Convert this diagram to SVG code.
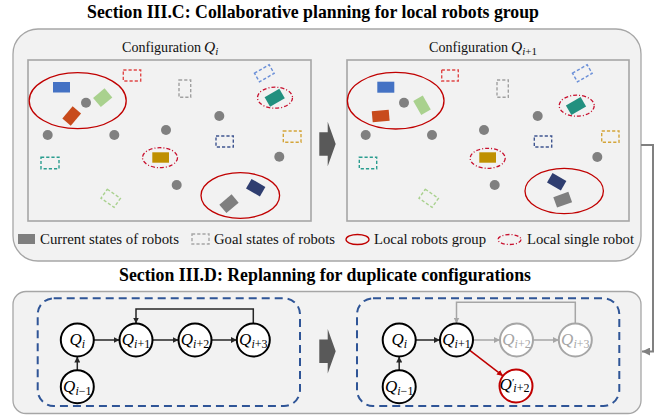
<svg xmlns="http://www.w3.org/2000/svg" width="662" height="420" viewBox="0 0 662 420">
<defs>
<style>
.ttl{font-family:"Times New Roman","Liberation Serif","DejaVu Serif",serif;font-weight:bold;font-size:17.8px;fill:#000}
.lbl{font-family:"Times New Roman","Liberation Serif","DejaVu Serif",serif;font-size:14px;fill:#111}
.leg{font-family:"Times New Roman","Liberation Serif","DejaVu Serif",serif;font-size:14.6px;fill:#111}
.math{font-family:"Times New Roman","Liberation Serif","DejaVu Serif",serif;font-style:italic}
.up{font-style:normal}
.panel{fill:#F2F2F2;stroke:#A6A6A6;stroke-width:1.3}
.field{fill:#F2F2F2;stroke:#A6A6A6;stroke-width:1.6}
.obs{fill:#808080}
.goal{fill:none;stroke-width:1.4;stroke-dasharray:3.2 2}
.grp{fill:none;stroke:#C00000;stroke-width:1.3}
.single{fill:none;stroke:#C8102E;stroke-width:1.3;stroke-dasharray:4 2 1 2}
.dash{fill:none;stroke:#2F5597;stroke-width:2;stroke-dasharray:8 5}
.node circle{fill:#fff;stroke:#000;stroke-width:2}
.node text{font-family:"Times New Roman","Liberation Serif","DejaVu Serif",serif;font-style:italic;font-size:17px;fill:#000}
.node.grey circle{stroke:#A6A6A6}
.node.grey text{fill:#A6A6A6}
.node.red circle{stroke:#C00000}
.edge{fill:none;stroke:#262626;stroke-width:1.5}
.edgeg{fill:none;stroke:#A6A6A6;stroke-width:1.5}
.edger{fill:none;stroke:#C00000;stroke-width:1.5}
.big{fill:#595959}
</style>
<marker id="ah" viewBox="0 0 6 6" refX="6" refY="3" markerWidth="6" markerHeight="6" markerUnits="userSpaceOnUse" orient="auto"><path d="M0,0L6,3L0,6z" fill="#262626"/></marker>
<marker id="ahg" viewBox="0 0 6 6" refX="6" refY="3" markerWidth="6" markerHeight="6" markerUnits="userSpaceOnUse" orient="auto"><path d="M0,0L6,3L0,6z" fill="#A6A6A6"/></marker>
<marker id="ahr" viewBox="0 0 6 6" refX="6" refY="3" markerWidth="6" markerHeight="6" markerUnits="userSpaceOnUse" orient="auto"><path d="M0,0L6,3L0,6z" fill="#C00000"/></marker>
<marker id="ahc" viewBox="0 0 8 8" refX="8" refY="4" markerWidth="8" markerHeight="8" markerUnits="userSpaceOnUse" orient="auto"><path d="M0,0L8,4L0,8z" fill="#808080"/></marker>
</defs>

<!-- Titles -->
<text class="ttl" x="87" y="18" textLength="452" lengthAdjust="spacingAndGlyphs">Section III.C: Collaborative planning for local robots group</text>

<!-- Top panel -->
<g id="top-panel">
<rect class="panel" x="13" y="29" width="628" height="232" rx="25"/>
<text class="lbl" x="122" y="52"><tspan textLength="79" lengthAdjust="spacingAndGlyphs">Configuration</tspan><tspan class="math" font-size="15.5" x="204">Q</tspan><tspan class="math" font-size="11" dy="3">i</tspan></text>
<text class="lbl" x="429" y="52"><tspan textLength="79" lengthAdjust="spacingAndGlyphs">Configuration</tspan><tspan class="math" font-size="15.5" x="511">Q</tspan><tspan font-size="11" dy="3"><tspan class="math">i</tspan>+1</tspan></text>

<!-- left field -->
<g id="field-left">
<rect class="field" x="28" y="60" width="283" height="161"/>
<ellipse class="grp" cx="77.7" cy="100.7" rx="48.5" ry="28"/>
<rect x="53" y="82" width="17" height="10.5" fill="#4472C4"/>
<circle class="obs" cx="86" cy="102.7" r="5"/>
<rect x="-7.5" y="-6" width="15" height="12" fill="#A9D18E" transform="translate(102.7 97.7) rotate(-40)"/>
<rect x="-8" y="-5.5" width="16" height="11" fill="#C84B1C" transform="translate(71.7 116) rotate(-50)"/>
<rect class="goal" x="123.3" y="70" width="17.4" height="11" stroke="#E04848"/>
<rect class="goal" x="179" y="80" width="11.7" height="17.3" stroke="#A0A0A0"/>
<rect class="goal" x="-8.5" y="-5" width="17" height="10" stroke="#6A8FD8" transform="translate(264.3 73.3) rotate(-30)"/>
<ellipse class="single" cx="275" cy="97.7" rx="17.5" ry="10.5"/>
<rect x="-8.5" y="-5.5" width="17" height="11" fill="#22907F" transform="translate(274.7 97.7) rotate(-30)"/>
<circle class="obs" cx="47.7" cy="135" r="5"/>
<circle class="obs" cx="114.3" cy="135" r="5"/>
<circle class="obs" cx="166" cy="130" r="5"/>
<circle class="obs" cx="219.3" cy="116" r="5"/>
<circle class="obs" cx="279.3" cy="156.7" r="5"/>
<circle class="obs" cx="176.7" cy="185" r="5"/>
<rect class="goal" x="216" y="136" width="17.3" height="11" stroke="#3F5590"/>
<rect class="goal" x="283.3" y="131" width="17.7" height="11.3" stroke="#D4A53A"/>
<rect class="goal" x="41" y="157.3" width="18" height="11.4" stroke="#2A9D8F"/>
<ellipse class="single" cx="160" cy="157.7" rx="17.5" ry="10"/>
<rect x="152.3" y="152.3" width="16.7" height="10.4" fill="#BF9000"/>
<rect class="goal" x="-8" y="-5.5" width="16" height="11" stroke="#A9D18E" transform="translate(110.7 198.3) rotate(35)"/>
<ellipse class="grp" cx="240.3" cy="195.5" rx="39.3" ry="22.8"/>
<rect x="-8" y="-5.5" width="16" height="11" fill="#2F3E70" transform="translate(255.7 187.7) rotate(30)"/>
<rect x="-8" y="-5.5" width="16" height="11" fill="#7F7F7F" transform="translate(229 203.7) rotate(-40)"/>
</g>

<!-- right field -->
<g id="field-right">
<rect class="field" x="347" y="60" width="282" height="161"/>
<ellipse class="grp" cx="395.7" cy="100.7" rx="48.3" ry="28.3"/>
<rect x="377.3" y="81.7" width="17" height="11" fill="#4472C4"/>
<circle class="obs" cx="404" cy="102.7" r="5"/>
<rect x="-8" y="-5.5" width="16" height="11" fill="#A9D18E" transform="translate(422 105.3) rotate(60)"/>
<rect x="-8.5" y="-5.5" width="17" height="11" fill="#C84B1C" transform="translate(380.7 116) rotate(-5)"/>
<rect class="goal" x="441.7" y="70" width="16.6" height="11" stroke="#E04848"/>
<rect class="goal" x="497" y="80" width="11.3" height="17.3" stroke="#A0A0A0"/>
<rect class="goal" x="-8.5" y="-5" width="17" height="10" stroke="#6A8FD8" transform="translate(582.3 73.3) rotate(-30)"/>
<ellipse class="single" cx="576.7" cy="105.7" rx="17.5" ry="10.5"/>
<rect x="-8.5" y="-5.5" width="17" height="11" fill="#22907F" transform="translate(576 106) rotate(-30)"/>
<circle class="obs" cx="365.7" cy="135" r="5"/>
<circle class="obs" cx="432" cy="135" r="5"/>
<circle class="obs" cx="484" cy="130" r="5"/>
<circle class="obs" cx="537.7" cy="116" r="5"/>
<circle class="obs" cx="597.3" cy="157" r="5"/>
<circle class="obs" cx="494.7" cy="185" r="5"/>
<rect class="goal" x="534.3" y="136" width="17.4" height="11" stroke="#3F5590"/>
<rect class="goal" x="601.7" y="131" width="17.3" height="11.3" stroke="#D4A53A"/>
<rect class="goal" x="359.3" y="157.3" width="17.4" height="11.4" stroke="#2A9D8F"/>
<ellipse class="single" cx="487.7" cy="158.3" rx="17.5" ry="10"/>
<rect x="479.3" y="152.3" width="16.7" height="10.4" fill="#BF9000"/>
<rect class="goal" x="-8" y="-5.5" width="16" height="11" stroke="#A9D18E" transform="translate(428.7 198.3) rotate(35)"/>
<ellipse class="grp" cx="564.2" cy="191" rx="39.2" ry="22.7"/>
<rect x="-8" y="-5.5" width="16" height="11" fill="#2F3E70" transform="translate(556.7 181.7) rotate(30)"/>
<rect x="-8" y="-5.5" width="16" height="11" fill="#7F7F7F" transform="translate(562.7 199.7) rotate(-20)"/>
</g>

<!-- big arrow top -->
<polygon class="big" points="319.3,132.3 327.7,132.3 327.7,121.7 335.7,144 327.7,166.3 327.7,155.7 319.3,155.7"/>

<!-- legend -->
<g id="legend">
<rect x="18" y="234" width="17" height="10" fill="#7F7F7F"/>
<text class="leg" x="40" y="243.5" textLength="139" lengthAdjust="spacingAndGlyphs">Current states of robots</text>
<rect class="goal" x="192" y="234" width="17" height="10" stroke="#A6A6A6"/>
<text class="leg" x="214" y="243.5" textLength="121" lengthAdjust="spacingAndGlyphs">Goal states of robots</text>
<ellipse class="grp" cx="357.5" cy="239.5" rx="11.5" ry="5"/>
<text class="leg" x="374" y="243.5" textLength="112" lengthAdjust="spacingAndGlyphs">Local robots group</text>
<ellipse class="single" cx="509.5" cy="239.5" rx="11.5" ry="5"/>
<text class="leg" x="527" y="243.5" textLength="107" lengthAdjust="spacingAndGlyphs">Local single robot</text>
</g>
</g>

<text class="ttl" x="119" y="281.3" textLength="412" lengthAdjust="spacingAndGlyphs">Section III.D: Replanning for duplicate configurations</text>

<!-- Bottom panel -->
<g id="bottom-panel">
<rect class="panel" x="13" y="291.5" width="628" height="122" rx="13"/>
<rect class="dash" x="37.7" y="298.3" width="262.3" height="107.7" rx="16"/>
<rect class="dash" x="357" y="298.3" width="262.3" height="107.7" rx="16"/>
<polygon class="big" points="319.3,339.5 327.7,339.5 327.7,329 335.7,351.3 327.7,373.6 327.7,363 319.3,363"/>
</g>

<!-- connectors -->
<g id="connectors">
<path d="M641,145 H653 V351.5 H642" fill="none" stroke="#808080" stroke-width="2" marker-end="url(#ahc)"/>
<line class="edge" x1="94" y1="340" x2="119.5" y2="340" marker-end="url(#ah)"/>
<line class="edge" x1="152.5" y1="340" x2="178.5" y2="340" marker-end="url(#ah)"/>
<line class="edge" x1="211.5" y1="340" x2="236.8" y2="340" marker-end="url(#ah)"/>
<line class="edge" x1="77.3" y1="370.2" x2="77.3" y2="356.5" marker-end="url(#ah)"/>
<path class="edge" d="M253.3,323.5 V309 H136 V323.5" marker-end="url(#ah)"/>
<line class="edge" x1="416" y1="340" x2="440" y2="340" marker-end="url(#ah)"/>
<line class="edgeg" x1="473" y1="340" x2="500" y2="340" marker-end="url(#ahg)"/>
<line class="edgeg" x1="533" y1="340" x2="558.8" y2="340" marker-end="url(#ahg)"/>
<line class="edge" x1="399.2" y1="370.2" x2="399.2" y2="356.5" marker-end="url(#ah)"/>
<path class="edgeg" d="M575.3,323.5 V302.3 H456.5 V323.5" marker-end="url(#ahg)"/>
<line class="edger" x1="469.5" y1="350.1" x2="503" y2="375.9" marker-end="url(#ahr)"/>
</g>

<!-- left graph nodes -->
<g id="L-Qi" class="node"><circle cx="77.3" cy="340" r="16.5"/><text x="77.3" y="345" text-anchor="middle">Q<tspan font-size="12" dy="3">i</tspan></text></g>
<g id="L-Qi1" class="node"><circle cx="136" cy="340" r="16.5"/><text x="136" y="345" text-anchor="middle">Q<tspan font-size="12" dy="3">i<tspan class="up">+1</tspan></tspan></text></g>
<g id="L-Qi2" class="node"><circle cx="195" cy="340" r="16.5"/><text x="195" y="345" text-anchor="middle">Q<tspan font-size="12" dy="3">i<tspan class="up">+2</tspan></tspan></text></g>
<g id="L-Qi3" class="node"><circle cx="253.3" cy="340" r="16.5"/><text x="253.3" y="345" text-anchor="middle">Q<tspan font-size="12" dy="3">i<tspan class="up">+3</tspan></tspan></text></g>
<g id="L-Qim1" class="node"><circle cx="77.3" cy="386.7" r="16.5"/><text x="77.3" y="391.7" text-anchor="middle">Q<tspan font-size="12" dy="3">i<tspan class="up">−1</tspan></tspan></text></g>

<!-- right graph nodes -->
<g id="R-Qi" class="node"><circle cx="399.2" cy="340" r="16.5"/><text x="399.2" y="345" text-anchor="middle">Q<tspan font-size="12" dy="3">i</tspan></text></g>
<g id="R-Qi1" class="node"><circle cx="456.5" cy="340" r="16.5"/><text x="456.5" y="345" text-anchor="middle">Q<tspan font-size="12" dy="3">i<tspan class="up">+1</tspan></tspan></text></g>
<g id="R-Qi2" class="node grey"><circle cx="516.5" cy="340" r="16.5"/><text x="516.5" y="345" text-anchor="middle">Q<tspan font-size="12" dy="3">i<tspan class="up">+2</tspan></tspan></text></g>
<g id="R-Qi3" class="node grey"><circle cx="575.3" cy="340" r="16.5"/><text x="575.3" y="345" text-anchor="middle">Q<tspan font-size="12" dy="3">i<tspan class="up">+3</tspan></tspan></text></g>
<g id="R-Qim1" class="node"><circle cx="399.2" cy="386.7" r="16.5"/><text x="399.2" y="391.7" text-anchor="middle">Q<tspan font-size="12" dy="3">i<tspan class="up">−1</tspan></tspan></text></g>
<g id="R-Qpi2" class="node red"><circle cx="516" cy="386" r="16.5"/><text x="514.5" y="390" text-anchor="middle">Q<tspan class="up" font-size="11" dy="-4">′</tspan><tspan font-size="12" dx="-1" dy="6">i<tspan class="up">+2</tspan></tspan></text></g>
</svg>
